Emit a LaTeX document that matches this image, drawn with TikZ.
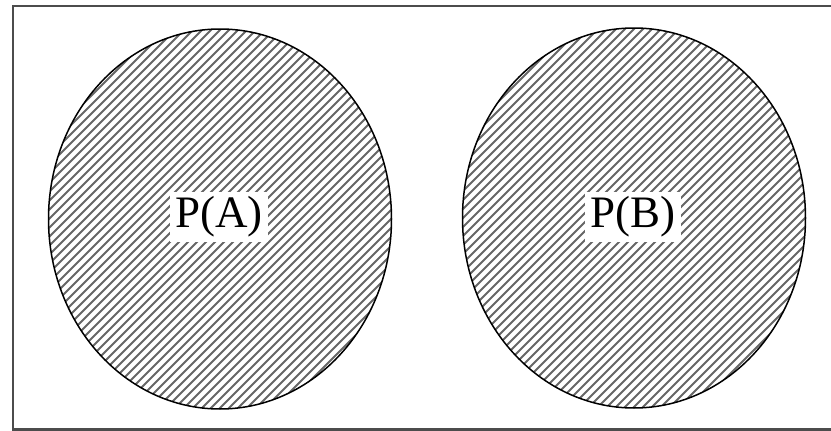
\documentclass[tikz,border=0pt]{standalone}
\usepackage{fontspec}
\setmainfont{Liberation Serif}
\usetikzlibrary{shapes.geometric, positioning}

\begin{document}
\begin{tikzpicture}[x=1pt, y=-1pt,
    hatch/.style={line width=2pt, black!60},
    event/.style={ellipse, draw=black, line width=1.5pt, minimum width=343pt,
        minimum height=380pt, inner sep=0pt,
        path picture={
            \foreach \k in {-42,...,42}
                \draw[hatch] ([xshift=\k*9pt]path picture bounding box.center)
                    ++(-250,250) -- ++(500,-500);
        }},
    prob/.style={fill=white, inner sep=5pt, font=\fontsize{45}{50}\selectfont}]
    \useasboundingbox (0,0) rectangle (831,431);
    \draw[line width=2.5pt, black!70] (13,6) rectangle (840,429.5);

    \node[event] (A) at (220,219) {};
    \node[event] (B) at (634,218) {};

    \node[prob] (pa) at (219,217) {P(A)};
    \node[prob] (pb) at (633,217) {P(B)};
\end{tikzpicture}
\end{document}
